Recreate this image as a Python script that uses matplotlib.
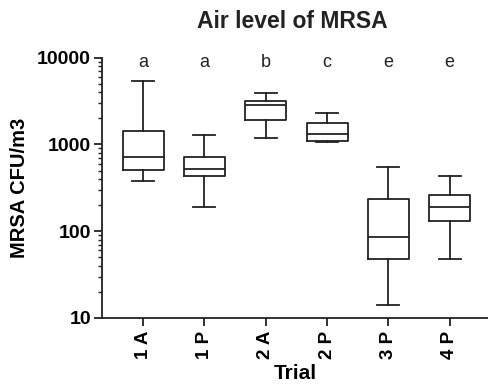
import matplotlib
matplotlib.use("Agg")
import matplotlib.pyplot as plt
from matplotlib.ticker import LogLocator, NullFormatter, FixedLocator
import matplotlib.transforms as mtransforms

plt.rcParams['font.family'] = ['Liberation Sans', 'DejaVu Sans']

categories = ["1 A", "1 P", "2 A", "2 P", "3 P", "4 P"]
whislo = [381, 190, 1195, 1057, 14, 48]
q1 = [507, 436, 1910, 1087, 48, 131]
med = [721, 525, 2845, 1305, 86, 191]
q3 = [1440, 721, 3190, 1750, 237, 261]
whishi = [5380, 1295, 3945, 2325, 548, 429]
letters = ["a", "a", "b", "c", "e", "e"]
title = "Air level of MRSA"
ylabel = "MRSA CFU/m3"
xlabel = "Trial"

fig = plt.figure(figsize=(4.89, 3.84), dpi=100)
ax = fig.add_axes([0.2086, 0.172, 0.7914, 0.6778])

stats = []
for i in range(len(categories)):
    stats.append(dict(label=categories[i], whislo=whislo[i], q1=q1[i], med=med[i],
                      q3=q3[i], whishi=whishi[i], fliers=[]))

lc = '#222222'
lw = 1.3
ax.bxp(stats, positions=range(len(categories)), widths=0.67, showfliers=False,
       boxprops=dict(color=lc, linewidth=lw),
       medianprops=dict(color=lc, linewidth=lw),
       whiskerprops=dict(color=lc, linewidth=lw),
       capprops=dict(color=lc, linewidth=lw),
       capwidths=0.36)

ax.set_yscale('log')
ax.set_ylim(10, 10000)
ax.set_xlim(-0.67, 5.64)
ax.yaxis.set_major_locator(FixedLocator([10, 100, 1000, 10000]))
ax.yaxis.set_major_formatter(matplotlib.ticker.FuncFormatter(lambda v, p: f"{int(round(v))}"))
ax.yaxis.set_minor_locator(LogLocator(base=10, subs=range(2, 10)))
ax.yaxis.set_minor_formatter(NullFormatter())

for s in ['top', 'right']:
    ax.spines[s].set_visible(False)
for s in ['left', 'bottom']:
    ax.spines[s].set_linewidth(1.3)
    ax.spines[s].set_color(lc)

ax.tick_params(axis='y', which='major', length=6, width=1.3, color=lc, labelsize=14, pad=2)
ax.tick_params(axis='y', which='minor', length=3, width=1.0, color=lc)
ax.tick_params(axis='x', which='major', length=6, width=1.3, color=lc, labelsize=13.5, pad=3)
ax.set_xticks(range(len(categories)))
ax.set_xticklabels(categories, rotation=90, fontweight='bold')
for lab in ax.get_yticklabels():
    lab.set_fontweight('bold')

trans = mtransforms.blended_transform_factory(ax.transData, ax.transAxes)
for i, l in enumerate(letters):
    ax.text(i, 0.98, l, transform=trans, ha='center', va='center', fontsize=13, color=lc)

ax.set_ylabel(ylabel, fontsize=14.5, fontweight='bold', labelpad=6)
ax.set_xlabel(xlabel, fontsize=15, fontweight='bold', labelpad=4)
fig.text(0.598, 0.943, title, ha='center', va='center', fontsize=16.5, fontweight='bold', color=lc)

fig.savefig("out.png", dpi=100)
